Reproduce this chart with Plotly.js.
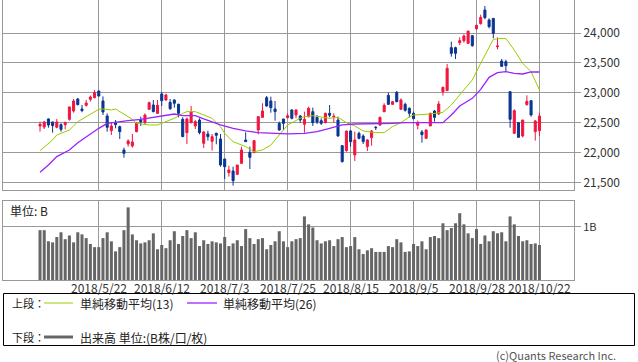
<!DOCTYPE html>
<html>
<head>
<meta charset="utf-8">
<script src="https://cdn.plot.ly/plotly-3.0.1.min.js"></script>
<style>html,body{margin:0;padding:0;background:#fff;}#chart{width:638px;height:362px;}</style>
</head>
<body>
<div id="chart"></div>
<script>
const dates = ["2018/4/27","2018/5/1","2018/5/2","2018/5/7","2018/5/8","2018/5/9","2018/5/10","2018/5/11","2018/5/14","2018/5/15","2018/5/16","2018/5/17","2018/5/18","2018/5/21","2018/5/22","2018/5/23","2018/5/24","2018/5/25","2018/5/28","2018/5/29","2018/5/30","2018/5/31","2018/6/1","2018/6/4","2018/6/5","2018/6/6","2018/6/7","2018/6/8","2018/6/11","2018/6/12","2018/6/13","2018/6/14","2018/6/15","2018/6/18","2018/6/19","2018/6/20","2018/6/21","2018/6/22","2018/6/25","2018/6/26","2018/6/27","2018/6/28","2018/6/29","2018/7/2","2018/7/3","2018/7/4","2018/7/5","2018/7/6","2018/7/9","2018/7/10","2018/7/11","2018/7/12","2018/7/13","2018/7/17","2018/7/18","2018/7/19","2018/7/20","2018/7/23","2018/7/24","2018/7/25","2018/7/26","2018/7/27","2018/7/30","2018/7/31","2018/8/1","2018/8/2","2018/8/3","2018/8/6","2018/8/7","2018/8/8","2018/8/9","2018/8/10","2018/8/13","2018/8/14","2018/8/15","2018/8/16","2018/8/17","2018/8/20","2018/8/21","2018/8/22","2018/8/23","2018/8/24","2018/8/27","2018/8/28","2018/8/29","2018/8/30","2018/8/31","2018/9/3","2018/9/4","2018/9/5","2018/9/6","2018/9/7","2018/9/10","2018/9/11","2018/9/12","2018/9/13","2018/9/14","2018/9/18","2018/9/19","2018/9/20","2018/9/21","2018/9/25","2018/9/26","2018/9/27","2018/9/28","2018/10/1","2018/10/2","2018/10/3","2018/10/4","2018/10/5","2018/10/9","2018/10/10","2018/10/11","2018/10/12","2018/10/15","2018/10/16","2018/10/17","2018/10/18","2018/10/19","2018/10/22"];

const openP = [22450,22433,22567,22517,22428,22472,22472,22561,22700,22900,22733,22794,22894,22922,23033,22867,22617,22372,22506,22439,22050,22150,22117,22356,22550,22506,22728,22800,22661,22983,22883,22844,22883,22811,22561,22339,22506,22450,22550,22161,22317,22194,22328,22233,21900,21672,21700,21644,21828,22217,22011,22011,22383,22594,22922,22867,22733,22494,22567,22589,22717,22633,22617,22478,22606,22689,22594,22539,22506,22661,22600,22550,22122,22039,22367,21967,22328,22283,22106,22256,22428,22467,22689,22961,22811,23011,22728,22811,22744,22661,22461,22350,22244,22450,22700,22650,23022,23039,23756,23756,23839,23872,23828,23956,24072,24156,24383,24217,24244,23772,23533,23522,23022,22328,22506,22283,22806,22872,22356,22372];
const highP = [22522,22533,22578,22522,22567,22494,22522,22772,22900,22917,22800,22883,22956,23050,23044,22944,22661,22506,22550,22456,22089,22228,22317,22511,22606,22661,22856,22883,22883,23017,22989,22900,22894,22822,22594,22594,22783,22550,22578,22367,22372,22317,22339,22317,21900,21789,21772,21800,22106,22344,22106,22217,22606,22828,22950,22939,22867,22522,22567,22661,22728,22728,22633,22689,22772,22756,22633,22578,22672,22800,22661,22606,22133,22367,22383,22356,22356,22311,22228,22383,22450,22606,22828,23006,22867,23033,22911,22839,22761,22689,22539,22383,22394,22672,22717,22867,23106,23483,23856,23772,23928,23978,24033,23967,24139,24306,24450,24244,24244,23928,23567,23556,23022,22728,22517,22550,22961,22883,22550,22672];
const lowP = [22355,22400,22422,22339,22411,22355,22394,22539,22672,22794,22678,22772,22856,22911,22939,22633,22355,22300,22411,22233,21922,22106,22089,22344,22450,22483,22717,22678,22650,22783,22872,22717,22756,22594,22272,22150,22494,22400,22311,22083,22206,22039,22144,21772,21567,21606,21456,21633,21817,22189,21733,21994,22311,22589,22772,22672,22539,22372,22383,22578,22561,22578,22506,22339,22594,22450,22483,22467,22494,22594,22506,22272,21839,22022,22106,21867,22228,22150,22033,22122,22383,22450,22678,22800,22800,22844,22717,22689,22594,22561,22394,22172,22233,22450,22522,22633,22956,23039,23606,23567,23800,23839,23817,23772,24056,24139,24228,24078,23911,23728,23433,23356,22422,22317,22250,22261,22789,22606,22206,22283];
const closeP = [22478,22517,22467,22456,22517,22394,22506,22767,22867,22806,22706,22833,22933,23006,22950,22683,22428,22450,22472,22356,21994,22200,22183,22494,22522,22633,22839,22689,22794,22872,22967,22739,22828,22661,22272,22567,22689,22522,22339,22350,22272,22272,22294,21800,21772,21717,21539,21800,22050,22189,21928,22206,22606,22700,22783,22756,22689,22383,22494,22622,22578,22717,22550,22561,22744,22506,22517,22494,22661,22628,22611,22283,21856,22367,22189,22217,22244,22189,22217,22367,22422,22594,22794,22811,22856,22856,22883,22711,22661,22572,22506,22306,22383,22661,22594,22817,23094,23411,23661,23661,23872,23950,24033,23789,24128,24261,24256,24106,23994,23783,23444,23456,22561,22706,22261,22550,22861,22633,22533,22617];

// volume in billions of shares
const volume = [0.94,0.94,0.73,0.71,0.81,0.90,0.77,0.84,0.71,0.90,0.86,0.79,0.68,0.62,0.62,0.79,0.90,0.73,0.54,0.62,0.94,1.37,0.86,0.75,0.69,0.71,0.75,0.88,0.58,0.66,0.60,0.75,0.92,0.68,0.83,0.94,0.79,0.90,0.64,0.75,0.68,0.73,0.71,0.69,0.81,0.64,0.69,0.75,0.64,0.96,0.79,0.68,0.77,0.79,0.58,0.66,0.73,0.92,0.73,0.62,0.73,0.77,0.79,1.20,1.05,0.99,0.75,0.69,0.73,0.75,0.64,0.77,0.81,0.62,0.64,0.81,0.58,0.49,0.56,0.60,0.53,0.53,0.53,0.64,0.62,0.77,0.71,0.53,0.54,0.68,0.64,0.73,0.58,0.81,0.83,0.79,1.07,0.94,0.98,1.07,1.26,1.05,0.88,0.79,0.96,0.68,0.84,0.73,0.92,0.88,0.90,0.73,1.20,1.05,0.83,0.73,0.75,0.68,0.69,0.66];

// moving averages (index into dates, value)
const ma13Idx = [0,3,4,7,9,11,14,15,17,18,19,22,23,26,28,30,32,34,35,37,39,41,43,44,46,49,51,53,55,57,59,62,63,65,67,69,71,73,75,77,80,82,84,86,88,89,93,96,98,100,103,105,107,108,110,111,113,115,117,119];
const ma13Val = [22039,22217,22300,22383,22522,22606,22728,22733,22717,22733,22689,22561,22494,22467,22467,22522,22578,22661,22689,22689,22633,22578,22439,22328,22189,22106,22022,22050,22133,22300,22467,22578,22606,22622,22594,22578,22594,22506,22450,22367,22339,22339,22439,22506,22600,22633,22650,22678,22800,22967,23217,23494,23772,23894,23911,23906,23717,23494,23356,23050];
const ma26Idx = [0,2,4,7,9,11,14,16,18,21,24,27,30,32,34,37,39,41,43,46,49,52,55,59,63,66,69,72,75,78,81,84,87,89,93,96,98,100,103,105,107,109,111,113,115,117,119];
const ma26Val = [21678,21800,21939,22050,22172,22272,22411,22494,22517,22539,22561,22594,22617,22650,22622,22622,22567,22511,22467,22411,22367,22339,22328,22317,22328,22356,22411,22467,22483,22483,22483,22494,22506,22506,22506,22506,22633,22783,22911,23061,23261,23339,23356,23328,23317,23350,23350];

const tickDates = ["2018/5/22","2018/6/12","2018/7/3","2018/7/25","2018/8/15","2018/9/5","2018/9/28","2018/10/22"];
const priceTicks = [21500,22000,22500,23000,23500,24000];
const volTicks = [1];
const volTickText = ["1B"];

const W = 638, H = 362, ML = 3, MR = 64;
const PW = W - ML - MR;
const X = px => (px - ML) / PW;
const Y = py => 1 - py / H;
const FONT = "Noto Sans CJK JP, Noto Sans, sans-serif";
const GRID = "#999999";
const RED = "#f0163f", BLUE = "#0a3593";

const traces = [
  {type: "candlestick", x: dates, open: openP, high: highP, low: lowP, close: closeP,
   xaxis: "x", yaxis: "y", whiskerwidth: 0,
   increasing: {line: {color: RED, width: 1}, fillcolor: RED},
   decreasing: {line: {color: BLUE, width: 1}, fillcolor: BLUE},
   hoverinfo: "skip"},
  {type: "scatter", mode: "lines", x: ma13Idx.map(i => dates[i]), y: ma13Val,
   xaxis: "x", yaxis: "y", line: {color: "#99cc00", width: 1}, hoverinfo: "skip"},
  {type: "scatter", mode: "lines", x: ma26Idx.map(i => dates[i]), y: ma26Val,
   xaxis: "x", yaxis: "y", line: {color: "#9a22ff", width: 1.3}, hoverinfo: "skip"},
  {type: "bar", x: dates, y: volume, xaxis: "x2", yaxis: "y2",
   marker: {color: "#666666", line: {width: 0}}, hoverinfo: "skip"}
];

const xr = [-8.82, 127.23];
const txt = (text, px, py, anchor, color, size) => ({text, xref: "paper", yref: "paper", x: X(px), y: Y(py),
  xanchor: anchor || "left", yanchor: "middle", showarrow: false,
  font: {family: FONT, size: size || 12, color: color || "#222222"}});

const annotations = [
  txt("単位: B", 8, 210),
  txt("上段：", 10, 303, "left", "#222222", 11),
  txt("単純移動平均(13)", 78, 303),
  txt("単純移動平均(26)", 221, 303),
  txt("下段：", 10, 337, "left", "#222222", 11),
  txt("出来高 単位:(B株/口/枚)", 78, 337),
  txt("(c)Quants Research Inc.", 618, 355, "right", "#555555", 11)
].concat(tickDates.map(d => ({text: d, xref: "x2", yref: "paper", x: d, y: Y(287.5),
  xanchor: "center", yanchor: "middle", showarrow: false,
  font: {family: FONT, size: 12, color: "#333333"}})));

const layout = {
  width: W, height: H,
  margin: {l: ML, r: MR, t: 0, b: 0, pad: 0},
  paper_bgcolor: "#ffffff", plot_bgcolor: "#ffffff",
  showlegend: false, bargap: 0.28,
  font: {family: FONT, size: 12, color: "#333333"},
  xaxis: {type: "category", categoryorder: "array", categoryarray: dates, range: xr,
          domain: [0, 1], anchor: "y", tickmode: "array", tickvals: tickDates,
          showticklabels: false, ticks: "", showgrid: true, gridcolor: GRID, gridwidth: 1,
          showline: true, mirror: true, linecolor: GRID, linewidth: 1,
          rangeslider: {visible: false}, fixedrange: true},
  yaxis: {domain: [Y(190), 1], range: [21383, 24550], side: "right",
          tickmode: "array", tickvals: priceTicks, tickformat: ",d",
          ticks: "outside", ticklen: 6, tickcolor: GRID, tickwidth: 1,
          showgrid: true, gridcolor: GRID, gridwidth: 1, zeroline: false,
          showline: true, mirror: true, linecolor: GRID, linewidth: 1,
          tickfont: {family: FONT, size: 12, color: "#333333"}, fixedrange: true},
  xaxis2: {type: "category", categoryorder: "array", categoryarray: dates, range: xr,
           domain: [0, 1], anchor: "y2", tickmode: "array", tickvals: tickDates,
           showticklabels: false, ticks: "", showgrid: true, gridcolor: GRID, gridwidth: 1,
           showline: true, mirror: true, linecolor: GRID, linewidth: 1, fixedrange: true},
  yaxis2: {domain: [Y(280), Y(201)], range: [0, 1.49], side: "right",
           tickmode: "array", tickvals: volTicks, ticktext: volTickText,
           ticks: "outside", ticklen: 6, tickcolor: GRID, tickwidth: 1,
           showgrid: true, gridcolor: GRID, gridwidth: 1, zeroline: false,
           showline: true, mirror: true, linecolor: GRID, linewidth: 1,
           tickfont: {family: FONT, size: 11, color: "#333333"}, fixedrange: true},
  shapes: [
    {type: "rect", xref: "paper", yref: "paper", x0: X(3.5), x1: X(634.5), y0: Y(293.5), y1: Y(345.5),
     line: {color: "#000000", width: 1}, fillcolor: "rgba(0,0,0,0)"},
    {type: "line", xref: "paper", yref: "paper", x0: X(44), x1: X(73), y0: Y(303), y1: Y(303),
     line: {color: "#99cc00", width: 1}},
    {type: "line", xref: "paper", yref: "paper", x0: X(187), x1: X(217), y0: Y(303), y1: Y(303),
     line: {color: "#9a22ff", width: 1.3}},
    {type: "line", xref: "paper", yref: "paper", x0: X(44), x1: X(73), y0: Y(337), y1: Y(337),
     line: {color: "#666666", width: 3}}
  ],
  annotations: annotations
};

Plotly.newPlot("chart", traces, layout, {staticPlot: true, displayModeBar: false});
</script>
</body>
</html>
